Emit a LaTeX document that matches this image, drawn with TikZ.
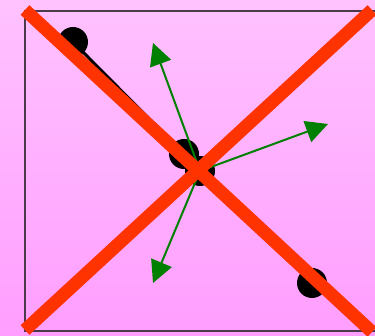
\documentclass[tikz,border=0pt]{standalone}
\usetikzlibrary{arrows.meta}
\definecolor{crossred}{HTML}{FF3300}
\definecolor{framegray}{HTML}{4A3A4A}
\definecolor{bgtop}{HTML}{FFC2FF}
\definecolor{bgbottom}{HTML}{FF9EFF}

\begin{document}
\begin{tikzpicture}[x=1pt,y=1pt,
    dot/.style={circle,fill=black,inner sep=0pt,minimum size=30pt},
    vec/.style={draw=green!50!black,line width=2pt,-{Triangle[length=22pt,width=22pt,fill=green!50!black]}},
    cross/.style={crossred,line width=13pt}]
                \useasboundingbox (0,0) rectangle (375,336);
                \shade[top color=bgtop,bottom color=bgbottom] (0,0) rectangle (375,336);
                \draw[framegray,line width=1.5pt] (378,325) -- (25,325) -- (25,5) -- (378,5);
                % chain of masses
                \coordinate (m1) at (73,294);
                \coordinate (m4) at (312,53);
                \draw[line width=3pt] (m1) -- (m4);
                \node[dot] (d1) at (m1) {};
                \node[dot] (d2) at (184,182) {};
                \node[dot] (d3) at (200,165) {};
                \node[dot] (d4) at (m4) {};
                % force vectors
                \coordinate (f1) at (153,293);
                \coordinate (f2) at (328,212);
                \coordinate (f3) at (153,53);
                \foreach \f in {f1,f2,f3}
                    \draw[vec] (d3.center) -- (\f);
                % crossed out
                \draw[cross] (25,326) -- (372,4);
                \draw[cross] (25,6) -- (372,326);
            \end{tikzpicture}
\end{document}
